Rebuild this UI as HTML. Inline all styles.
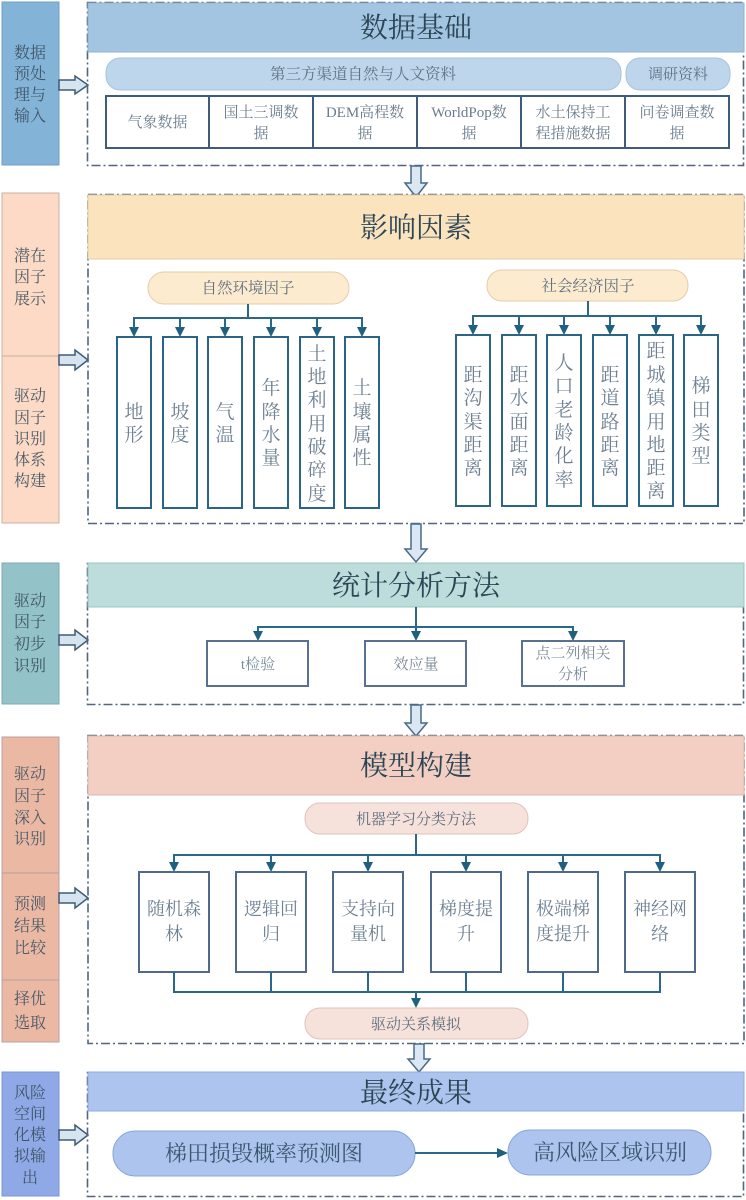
<!DOCTYPE html>
<html><head><meta charset="utf-8"><style>
html,body{margin:0;padding:0;background:#fff;}
svg{display:block;}
text{font-family:"Liberation Serif","Noto Serif CJK SC",serif;}
</style></head><body>
<svg width="746" height="1200" viewBox="0 0 746 1200" xmlns="http://www.w3.org/2000/svg">

<!-- ============ SECTION 1 ============ -->
<rect x="2" y="2" width="57" height="163" fill="#84b3d8" stroke="#6f9fc8"/>
<g font-size="16" fill="#3f5668" text-anchor="middle">
<text x="30" y="58">数据</text><text x="30" y="79">预处</text><text x="30" y="100">理与</text><text x="30" y="121">输入</text>
</g>
<path d="M59,80 L75,80 L75,76 L88,85 L75,94 L75,90 L59,90 Z" fill="#d6e4f0" stroke="#3e5b78" stroke-width="1.5"/>
<rect x="87.5" y="2.5" width="656" height="163" fill="none" stroke="#52667f" stroke-width="1.6" stroke-dasharray="9 3 2 3"/>
<rect x="88" y="3" width="656" height="49" fill="#a4c5e1" stroke="#8fb3d3"/>
<text x="416" y="37" font-size="28" fill="#2c4656" text-anchor="middle">数据基础</text>
<rect x="106" y="58" width="515" height="32" rx="14" fill="#bed6eb" stroke="#a8c3dd"/>
<text x="363" y="79" font-size="15.5" fill="#5f7285" text-anchor="middle">第三方渠道自然与人文资料</text>
<rect x="626" y="58" width="104" height="32" rx="14" fill="#bed6eb" stroke="#a8c3dd"/>
<text x="678" y="79" font-size="15" fill="#5f7285" text-anchor="middle">调研资料</text>
<rect x="106" y="96" width="623" height="52" fill="#fff" stroke="#3f5d7a" stroke-width="2"/>
<g stroke="#3f5d7a" stroke-width="2"><line x1="209" y1="96" x2="209" y2="148"/><line x1="313" y1="96" x2="313" y2="148"/><line x1="417" y1="96" x2="417" y2="148"/><line x1="521" y1="96" x2="521" y2="148"/><line x1="625" y1="96" x2="625" y2="148"/></g>
<g font-size="15" fill="#6a7c8c" text-anchor="middle">
<text x="157.5" y="127">气象数据</text>
<text x="261" y="117">国土三调数</text><text x="261" y="138">据</text>
<text x="365" y="117">DEM高程数</text><text x="365" y="138">据</text>
<text x="469" y="117">WorldPop数</text><text x="469" y="138">据</text>
<text x="573" y="117">水土保持工</text><text x="573" y="138">程措施数据</text>
<text x="677" y="117">问卷调查数</text><text x="677" y="138">据</text>
</g>

<path d="M411,166 L421,166 L421,183 L427,183 L416,197 L405,183 L411,183 Z" fill="#dbe7f2" stroke="#4a6a88" stroke-width="1.5"/>

<!-- ============ SECTION 2 ============ -->
<rect x="2" y="193" width="57" height="163" fill="#fcdac6" stroke="#c9b0a0"/>
<rect x="2" y="356" width="57" height="167" fill="#fcdac6" stroke="#c9b0a0"/>
<g font-size="16" fill="#4a5a66" text-anchor="middle">
<text x="30" y="261">潜在</text><text x="30" y="282">因子</text><text x="30" y="304">展示</text>
<text x="30" y="401">驱动</text><text x="30" y="423">因子</text><text x="30" y="444">识别</text><text x="30" y="465">体系</text><text x="30" y="486">构建</text>
</g>
<path d="M59,355 L75,355 L75,350 L88,360 L75,370 L75,365 L59,365 Z" fill="#d6e4f0" stroke="#3e5b78" stroke-width="1.5"/>
<rect x="88" y="194.5" width="656" height="329" fill="none" stroke="#52667f" stroke-width="1.6" stroke-dasharray="9 3 2 3"/>
<rect x="88" y="195" width="656" height="64" fill="#fbe3be" stroke="#e3cca6"/>
<text x="416" y="237" font-size="28" fill="#2c4656" text-anchor="middle">影响因素</text>

<rect x="148" y="272" width="201" height="32" rx="16" fill="#fdebd0" stroke="#e2cda8"/>
<text x="248" y="293" font-size="15.5" fill="#5f6f7d" text-anchor="middle">自然环境因子</text>
<rect x="487" y="270" width="201" height="31" rx="15" fill="#fdebd0" stroke="#e2cda8"/>
<text x="588" y="291" font-size="15.5" fill="#5f6f7d" text-anchor="middle">社会经济因子</text>

<g stroke="#2a6888" stroke-width="2" fill="none">
<line x1="248" y1="304" x2="248" y2="318"/><line x1="133" y1="318" x2="363" y2="318"/>
<line x1="588" y1="301" x2="588" y2="316"/><line x1="472" y1="316" x2="702" y2="316"/>
</g>
<g fill="#1f6080">
<path d="M129,327 L139,327 L134,337 Z"/><path d="M175,327 L185,327 L180,337 Z"/><path d="M220,327 L230,327 L225,337 Z"/><path d="M266,327 L276,327 L271,337 Z"/><path d="M312,327 L322,327 L317,337 Z"/><path d="M357,327 L367,327 L362,337 Z"/>
<line x1="134" y1="318" x2="134" y2="328" stroke="#2a6888" stroke-width="2"/><line x1="180" y1="318" x2="180" y2="328" stroke="#2a6888" stroke-width="2"/><line x1="225" y1="318" x2="225" y2="328" stroke="#2a6888" stroke-width="2"/><line x1="271" y1="318" x2="271" y2="328" stroke="#2a6888" stroke-width="2"/><line x1="317" y1="318" x2="317" y2="328" stroke="#2a6888" stroke-width="2"/><line x1="362" y1="318" x2="362" y2="328" stroke="#2a6888" stroke-width="2"/>
<path d="M468,325 L478,325 L473,335 Z"/><path d="M514,325 L524,325 L519,335 Z"/><path d="M559,325 L569,325 L564,335 Z"/><path d="M605,325 L615,325 L610,335 Z"/><path d="M651,325 L661,325 L656,335 Z"/><path d="M696,325 L706,325 L701,335 Z"/>
<line x1="473" y1="316" x2="473" y2="326" stroke="#2a6888" stroke-width="2"/><line x1="519" y1="316" x2="519" y2="326" stroke="#2a6888" stroke-width="2"/><line x1="564" y1="316" x2="564" y2="326" stroke="#2a6888" stroke-width="2"/><line x1="610" y1="316" x2="610" y2="326" stroke="#2a6888" stroke-width="2"/><line x1="656" y1="316" x2="656" y2="326" stroke="#2a6888" stroke-width="2"/><line x1="701" y1="316" x2="701" y2="326" stroke="#2a6888" stroke-width="2"/>
</g>
<g fill="#fff" stroke="#2b6585" stroke-width="2">
<rect x="117" y="337" width="34" height="171"/><rect x="163" y="337" width="34" height="171"/><rect x="208" y="337" width="34" height="171"/><rect x="254" y="337" width="34" height="171"/><rect x="300" y="337" width="34" height="171"/><rect x="345" y="337" width="34" height="171"/>
<rect x="456" y="335" width="34" height="171"/><rect x="502" y="335" width="34" height="171"/><rect x="547" y="335" width="34" height="171"/><rect x="593" y="335" width="34" height="171"/><rect x="639" y="335" width="34" height="171"/><rect x="684" y="335" width="34" height="171"/>
</g>
<g font-size="19" fill="#6e8092" text-anchor="middle">
<text x="134" y="418">地</text><text x="134" y="441">形</text>
<text x="180" y="418">坡</text><text x="180" y="441">度</text>
<text x="225" y="418">气</text><text x="225" y="441">温</text>
<text x="271" y="394">年</text><text x="271" y="418">降</text><text x="271" y="441">水</text><text x="271" y="464">量</text>
<text x="317" y="360">土</text><text x="317" y="383">地</text><text x="317" y="406">利</text><text x="317" y="430">用</text><text x="317" y="453">破</text><text x="317" y="476">碎</text><text x="317" y="500">度</text>
<text x="362" y="394">土</text><text x="362" y="418">壤</text><text x="362" y="441">属</text><text x="362" y="464">性</text>

<text x="473" y="381">距</text><text x="473" y="404">沟</text><text x="473" y="428">渠</text><text x="473" y="451">距</text><text x="473" y="474">离</text>
<text x="519" y="381">距</text><text x="519" y="404">水</text><text x="519" y="428">面</text><text x="519" y="451">距</text><text x="519" y="474">离</text>
<text x="564" y="369">人</text><text x="564" y="392">口</text><text x="564" y="416">老</text><text x="564" y="439">龄</text><text x="564" y="462">化</text><text x="564" y="486">率</text>
<text x="610" y="381">距</text><text x="610" y="404">道</text><text x="610" y="428">路</text><text x="610" y="451">距</text><text x="610" y="474">离</text>
<text x="656" y="357">距</text><text x="656" y="381">城</text><text x="656" y="404">镇</text><text x="656" y="428">用</text><text x="656" y="451">地</text><text x="656" y="474">距</text><text x="656" y="497">离</text>
<text x="701" y="392">梯</text><text x="701" y="416">田</text><text x="701" y="439">类</text><text x="701" y="462">型</text>
</g>

<path d="M411,524 L421,524 L421,549 L427,549 L416,562 L405,549 L411,549 Z" fill="#dbe7f2" stroke="#4a6a88" stroke-width="1.5"/>

<!-- ============ SECTION 3 ============ -->
<rect x="2" y="563" width="57" height="141" fill="#93c2c8" stroke="#7eaab2"/>
<g font-size="16" fill="#3f5668" text-anchor="middle">
<text x="30" y="606">驱动</text><text x="30" y="627">因子</text><text x="30" y="649">初步</text><text x="30" y="671">识别</text>
</g>
<path d="M59,635 L75,635 L75,630 L88,640 L75,650 L75,645 L59,645 Z" fill="#d6e4f0" stroke="#3e5b78" stroke-width="1.5"/>
<rect x="87.5" y="563.5" width="656" height="141" fill="none" stroke="#52667f" stroke-width="1.6" stroke-dasharray="9 3 2 3"/>
<rect x="88" y="563" width="656" height="44" fill="#bddcdc" stroke="#9cc4c4"/>
<text x="416" y="595" font-size="28" fill="#2c4656" text-anchor="middle">统计分析方法</text>
<g stroke="#2a6888" stroke-width="2">
<line x1="416" y1="607" x2="416" y2="632"/><line x1="257" y1="627" x2="574" y2="627"/>
<line x1="258" y1="627" x2="258" y2="632"/><line x1="573" y1="627" x2="573" y2="632"/>
</g>
<g fill="#1f6080"><path d="M253,631 L263,631 L258,641 Z"/><path d="M411,631 L421,631 L416,641 Z"/><path d="M568,631 L578,631 L573,641 Z"/></g>
<g fill="#fff" stroke="#5a7090" stroke-width="2">
<rect x="207" y="641" width="101" height="45"/><rect x="365" y="641" width="101" height="45"/><rect x="522" y="641" width="102" height="45"/>
</g>
<g font-size="15" fill="#7a8a98" text-anchor="middle">
<text x="258" y="669">t检验</text><text x="416" y="669">效应量</text>
<text x="573" y="658">点二列相关</text><text x="573" y="679">分析</text>
</g>

<path d="M411,705 L421,705 L421,723 L427,723 L416,736 L405,723 L411,723 Z" fill="#dbe7f2" stroke="#4a6a88" stroke-width="1.5"/>

<!-- ============ SECTION 4 ============ -->
<rect x="2" y="737" width="57" height="136" fill="#eab8a3" stroke="#b8a0a0"/>
<rect x="2" y="873" width="57" height="107" fill="#eab8a3" stroke="#b8a0a0"/>
<rect x="2" y="980" width="57" height="62" fill="#eab8a3" stroke="#b8a0a0"/>
<g font-size="16" fill="#4a5a66" text-anchor="middle">
<text x="30" y="779">驱动</text><text x="30" y="801">因子</text><text x="30" y="823">深入</text><text x="30" y="844">识别</text>
<text x="30" y="909">预测</text><text x="30" y="931">结果</text><text x="30" y="953">比较</text>
<text x="30" y="1004">择优</text><text x="30" y="1028">选取</text>
</g>
<path d="M59,893 L75,893 L75,888 L88,898 L75,908 L75,903 L59,903 Z" fill="#d6e4f0" stroke="#3e5b78" stroke-width="1.5"/>
<rect x="88" y="735.5" width="656" height="308" fill="none" stroke="#52667f" stroke-width="1.6" stroke-dasharray="9 3 2 3"/>
<rect x="88" y="736" width="656" height="59" fill="#f2cfc2" stroke="#d9b9b0"/>
<text x="416" y="775" font-size="28" fill="#2c4656" text-anchor="middle">模型构建</text>
<rect x="305" y="803" width="223" height="31" rx="15" fill="#f6e1db" stroke="#dcc4bc"/>
<text x="416" y="824" font-size="15" fill="#5f6f7d" text-anchor="middle">机器学习分类方法</text>
<g stroke="#2a6888" stroke-width="2">
<line x1="416" y1="834" x2="416" y2="855"/><line x1="173" y1="855" x2="661" y2="855"/>
<line x1="174" y1="855" x2="174" y2="863"/><line x1="271" y1="855" x2="271" y2="863"/><line x1="368" y1="855" x2="368" y2="863"/><line x1="466" y1="855" x2="466" y2="863"/><line x1="563" y1="855" x2="563" y2="863"/><line x1="660" y1="855" x2="660" y2="863"/>
</g>
<g fill="#1f6080">
<path d="M169,862 L179,862 L174,872 Z"/><path d="M266,862 L276,862 L271,872 Z"/><path d="M363,862 L373,862 L368,872 Z"/><path d="M461,862 L471,862 L466,872 Z"/><path d="M558,862 L568,862 L563,872 Z"/><path d="M655,862 L665,862 L660,872 Z"/>
</g>
<g fill="#fff" stroke="#4d6a8a" stroke-width="2">
<rect x="139" y="872" width="70" height="100"/><rect x="236" y="872" width="70" height="100"/><rect x="333" y="872" width="70" height="100"/><rect x="431" y="872" width="70" height="100"/><rect x="528" y="872" width="70" height="100"/><rect x="625" y="872" width="70" height="100"/>
</g>
<g font-size="18" fill="#6e8092" text-anchor="middle">
<text x="174" y="915">随机森</text><text x="174" y="940">林</text>
<text x="271" y="915">逻辑回</text><text x="271" y="940">归</text>
<text x="368" y="915">支持向</text><text x="368" y="940">量机</text>
<text x="466" y="915">梯度提</text><text x="466" y="940">升</text>
<text x="563" y="915">极端梯</text><text x="563" y="940">度提升</text>
<text x="660" y="915">神经网</text><text x="660" y="940">络</text>
</g>
<g stroke="#2a6888" stroke-width="2">
<line x1="174" y1="972" x2="174" y2="992"/><line x1="271" y1="972" x2="271" y2="992"/><line x1="368" y1="972" x2="368" y2="992"/><line x1="466" y1="972" x2="466" y2="992"/><line x1="563" y1="972" x2="563" y2="992"/><line x1="660" y1="972" x2="660" y2="992"/>
<line x1="173" y1="992" x2="661" y2="992"/><line x1="416" y1="992" x2="416" y2="999"/>
</g>
<path d="M411,998 L421,998 L416,1008 Z" fill="#1f6080"/>
<rect x="305" y="1008" width="223" height="31" rx="15" fill="#f6e1db" stroke="#dcc4bc"/>
<text x="416" y="1029" font-size="15" fill="#5f6f7d" text-anchor="middle">驱动关系模拟</text>

<path d="M414,1044 L424,1044 L424,1059 L430,1059 L419,1072 L408,1059 L414,1059 Z" fill="#dbe7f2" stroke="#4a6a88" stroke-width="1.5"/>

<!-- ============ SECTION 5 ============ -->
<rect x="2" y="1072" width="57" height="124" fill="#8ea9e6" stroke="#7a94d8"/>
<g font-size="16" fill="#3f5668" text-anchor="middle">
<text x="30" y="1098">风险</text><text x="30" y="1119">空间</text><text x="30" y="1140">化模</text><text x="30" y="1161">拟输</text><text x="30" y="1183">出</text>
</g>
<path d="M59,1130 L75,1130 L75,1125 L88,1135 L75,1145 L75,1140 L59,1140 Z" fill="#d6e4f0" stroke="#3e5b78" stroke-width="1.5"/>
<rect x="87.5" y="1072.5" width="656" height="124" fill="none" stroke="#52667f" stroke-width="1.6" stroke-dasharray="9 3 2 3"/>
<rect x="88" y="1072" width="656" height="39" fill="#adc5ee" stroke="#90acd8"/>
<text x="416" y="1102" font-size="28" fill="#2c4656" text-anchor="middle">最终成果</text>
<rect x="113" y="1131" width="302" height="45" rx="22" fill="#adc5ee" stroke="#8aa6d6"/>
<text x="264" y="1161" font-size="22" fill="#3b5870" text-anchor="middle">梯田损毁概率预测图</text>
<line x1="415" y1="1153" x2="498" y2="1153" stroke="#2a6888" stroke-width="2"/>
<path d="M497,1148 L508,1153 L497,1158 Z" fill="#1f6080"/>
<rect x="508" y="1130" width="203" height="45" rx="22" fill="#adc5ee" stroke="#8aa6d6"/>
<text x="610" y="1160" font-size="22" fill="#3b5870" text-anchor="middle">高风险区域识别</text>
</svg>
</body></html>
